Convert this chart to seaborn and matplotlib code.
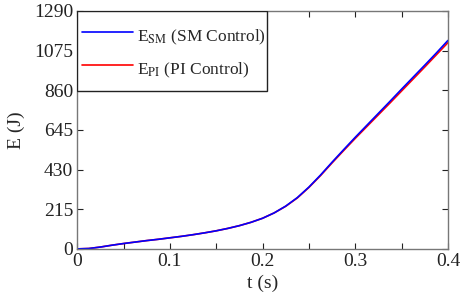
import numpy as np
import pandas as pd
import matplotlib
matplotlib.use("Agg")
import matplotlib.pyplot as plt
from matplotlib.patches import Rectangle
import seaborn as sns

# values
t = [0, 0.0125, 0.025, 0.0375, 0.05, 0.0625, 0.075, 0.0875, 0.1, 0.1125,
     0.125, 0.1375, 0.15, 0.1625, 0.175, 0.1875, 0.2, 0.2125, 0.225, 0.2375,
     0.25, 0.2625, 0.275, 0.2875, 0.3, 0.3125, 0.325, 0.3375, 0.35, 0.3625,
     0.375, 0.3875, 0.4]
e_sm = [0, 2, 10, 20, 29, 37, 45, 52, 60, 68,
        77, 87, 98, 111, 126, 144, 166, 195, 232, 278,
        335, 400, 470, 538, 605, 670, 735, 800, 866, 931,
        996, 1062, 1130]
e_pi = [0, 2, 10, 20, 29, 37, 45, 52, 60, 68,
        77, 87, 98, 111, 126, 144, 166, 195, 231, 276,
        333, 397, 466, 533, 599, 663, 727, 791, 856, 921,
        986, 1052, 1118]
x_ticks = [0, 0.1, 0.2, 0.3, 0.4]
x_tick_labels = ['0', '0.1', '0.2', '0.3', '0.4']
x_minor = [0.05, 0.15, 0.25, 0.35]
y_ticks = [0, 215, 430, 645, 860, 1075, 1290]


def make_plot():
    sns.set_style("white")
    plt.rcParams['font.family'] = ['Liberation Serif', 'DejaVu Serif']
    plt.rcParams['mathtext.fontset'] = 'stix'

    data = pd.DataFrame({
        't': t * 2,
        'E': e_pi + e_sm,
        'series': ['PI'] * len(t) + ['SM'] * len(t),
    })

    fig = plt.figure(figsize=(4.68, 2.97), dpi=100)
    ax = fig.add_axes([0.165, 0.162, 0.792, 0.801])

    sns.lineplot(data=data[data.series == 'PI'], x='t', y='E', color='#ff0000',
                 linewidth=1.2, ax=ax, label=r'E$_{\mathrm{PI}}$ (PI Control)')
    sns.lineplot(data=data[data.series == 'SM'], x='t', y='E', color='#0000ff',
                 linewidth=1.2, ax=ax, label=r'E$_{\mathrm{SM}}$ (SM Control)')

    ax.set_xlim(0, 0.4)
    ax.set_ylim(0, 1290)
    ax.set_yticks(y_ticks)
    ax.set_xticks(x_ticks)
    ax.set_xticklabels(x_tick_labels)
    ax.set_xticks(x_minor, minor=True)
    ax.tick_params(which='both', direction='in', length=4, width=0.8,
                   top=True, right=True, bottom=True, left=True,
                   labelsize=14, colors='#222222', pad=3)
    for s in ax.spines.values():
        s.set_color('#777777')
        s.set_linewidth(1.0)

    ax.set_xlabel('t (s)', fontsize=14, labelpad=3)
    ax.set_ylabel('E (J)', fontsize=14, labelpad=6)

    # legend box like the MATLAB one
    ax.add_patch(Rectangle((0, 0.664), 0.512, 0.336, transform=ax.transAxes,
                           facecolor='white', edgecolor='#222222',
                           linewidth=1.0, zorder=4.5))
    handles, labels = ax.get_legend_handles_labels()
    ax.legend(handles[::-1], labels[::-1], loc='upper left',
              bbox_to_anchor=(0, 0.972), fontsize=12.5, handlelength=2.9,
              handleheight=1.9, handletextpad=0.25, frameon=False,
              borderaxespad=0, borderpad=0.3, labelspacing=0.4)

    plt.savefig('out.png', dpi=100)


if __name__ == '__main__':
    make_plot()
